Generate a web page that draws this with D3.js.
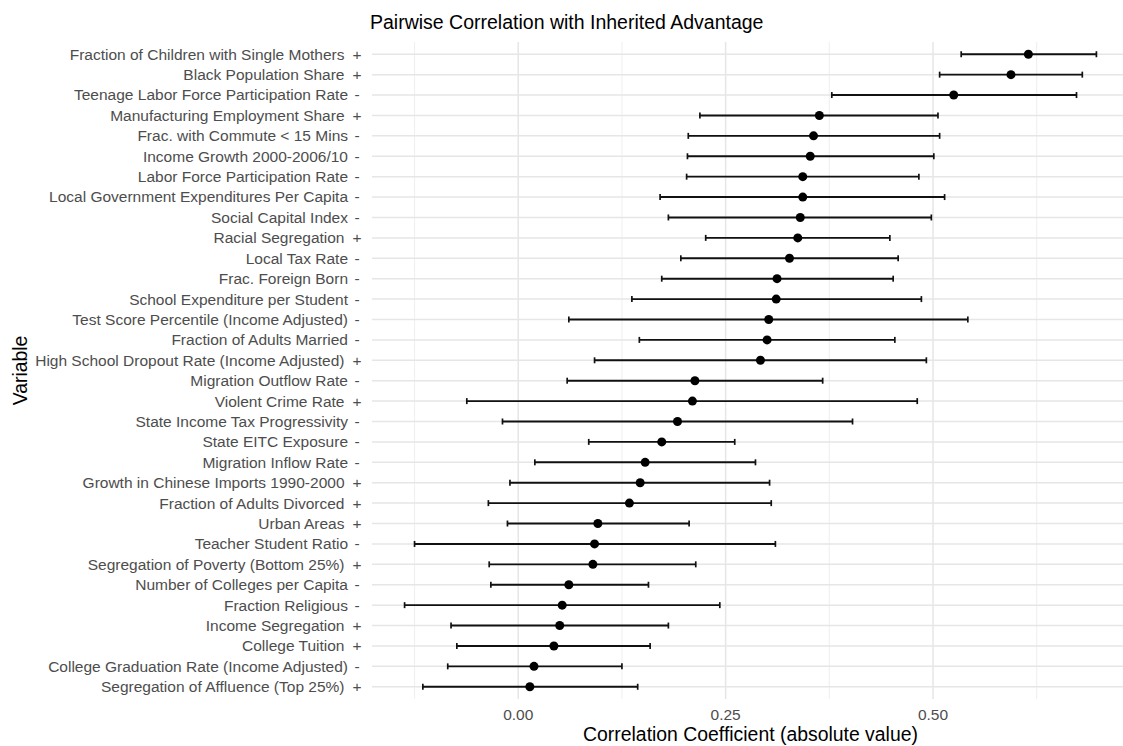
<!DOCTYPE html>
<html>
<head>
<meta charset="utf-8">
<script src="https://cdn.jsdelivr.net/npm/d3@7"></script>
<style>
  body { margin: 0; background: #fff; }
  svg { display: block; font-family: "Liberation Sans", Arial, Helvetica, sans-serif; }
</style>
</head>
<body>
<svg id="chart" width="1123" height="746"></svg>
<script>
// Variables, top to bottom
const variables = [
  "Fraction of Children with Single Mothers",
  "Black Population Share",
  "Teenage Labor Force Participation Rate",
  "Manufacturing Employment Share",
  "Frac. with Commute < 15 Mins",
  "Income Growth 2000-2006/10",
  "Labor Force Participation Rate",
  "Local Government Expenditures Per Capita",
  "Social Capital Index",
  "Racial Segregation",
  "Local Tax Rate",
  "Frac. Foreign Born",
  "School Expenditure per Student",
  "Test Score Percentile (Income Adjusted)",
  "Fraction of Adults Married",
  "High School Dropout Rate (Income Adjusted)",
  "Migration Outflow Rate",
  "Violent Crime Rate",
  "State Income Tax Progressivity",
  "State EITC Exposure",
  "Migration Inflow Rate",
  "Growth in Chinese Imports 1990-2000",
  "Fraction of Adults Divorced",
  "Urban Areas",
  "Teacher Student Ratio",
  "Segregation of Poverty (Bottom 25%)",
  "Number of Colleges per Capita",
  "Fraction Religious",
  "Income Segregation",
  "College Tuition",
  "College Graduation Rate (Income Adjusted)",
  "Segregation of Affluence (Top 25%)"
];
const signs = ["+","+","-","+","-","-","-","-","-","+","-","-","-","-","-","+",
               "-","+","-","-","-","+","+","+","-","+","-","-","+","+","-","+"];
const estimate = [0.615, 0.594, 0.525, 0.363, 0.356, 0.352, 0.343, 0.343, 0.340, 0.337, 0.327, 0.312,
                  0.311, 0.302, 0.300, 0.292, 0.213, 0.210, 0.192, 0.173, 0.153, 0.147, 0.134, 0.096,
                  0.092, 0.090, 0.061, 0.053, 0.050, 0.043, 0.019, 0.014];
const lower = [0.534, 0.508, 0.378, 0.219, 0.205, 0.204, 0.203, 0.171, 0.181, 0.226, 0.196, 0.173,
               0.137, 0.061, 0.146, 0.092, 0.059, -0.062, -0.019, 0.085, 0.020, -0.010, -0.036, -0.013,
               -0.125, -0.035, -0.033, -0.137, -0.081, -0.074, -0.085, -0.115];
const upper = [0.697, 0.680, 0.673, 0.506, 0.508, 0.501, 0.483, 0.514, 0.498, 0.448, 0.458, 0.452,
               0.486, 0.542, 0.454, 0.492, 0.367, 0.481, 0.403, 0.261, 0.286, 0.303, 0.305, 0.206,
               0.310, 0.214, 0.157, 0.243, 0.181, 0.159, 0.125, 0.144];
const xMajorTicks = [0, 0.25, 0.5];
const xMinorTicks = [-0.125, 0.125, 0.375, 0.625];
const xTickLabels = ["0.00", "0.25", "0.50"];

const svg = d3.select("#chart");
const panel = { left: 370, right: 1131, top: 42, bottom: 699 };

// ggplot-like 5% expansion of data range
const dmin = d3.min(lower), dmax = d3.max(upper);
const pad = (dmax - dmin) * 0.05;
const x = d3.scaleLinear().domain([dmin - pad, dmax + pad]).range([panel.left, panel.right]);
const y = d3.scalePoint().domain(variables).range([panel.top, panel.bottom]).padding(0.6);

const grid = svg.append("g");
grid.selectAll("line.minor").data(xMinorTicks).join("line")
  .attr("x1", d => x(d)).attr("x2", d => x(d))
  .attr("y1", panel.top).attr("y2", panel.bottom)
  .attr("stroke", "#EBEBEB").attr("stroke-width", 0.8);
grid.selectAll("line.major").data(xMajorTicks).join("line")
  .attr("x1", d => x(d)).attr("x2", d => x(d))
  .attr("y1", panel.top).attr("y2", panel.bottom)
  .attr("stroke", "#E6E6E6").attr("stroke-width", 1.5);
grid.selectAll("line.h").data(variables).join("line")
  .attr("x1", panel.left + 2).attr("x2", panel.right)
  .attr("y1", d => y(d)).attr("y2", d => y(d))
  .attr("stroke", "#E6E6E6").attr("stroke-width", 1.5);

// Y axis labels
const fs = 15.5;
const ylab = svg.append("g");
variables.forEach((v, i) => {
  ylab.append("text")
    .attr("x", signs[i] === "+" ? 344.5 : 348)
    .attr("y", y(v)).attr("dy", "0.35em")
    .attr("text-anchor", "end")
    .attr("font-size", fs).attr("fill", "#4D4D4D")
    .text(v);
  ylab.append("text")
    .attr("x", 357).attr("y", y(v)).attr("dy", "0.35em")
    .attr("text-anchor", "middle")
    .attr("font-size", fs).attr("fill", "#4D4D4D")
    .text(signs[i]);
});

// X axis labels
svg.append("g").selectAll("text").data(xMajorTicks).join("text")
  .attr("x", d => x(d)).attr("y", 720)
  .attr("text-anchor", "middle").attr("font-size", fs).attr("fill", "#4D4D4D")
  .text((d, i) => xTickLabels[i]);

// Error bars
const bars = svg.append("g");
variables.forEach((v, i) => {
  const yy = y(v);
  bars.append("line").attr("x1", x(lower[i])).attr("x2", x(upper[i]))
    .attr("y1", yy).attr("y2", yy).attr("stroke", "#111").attr("stroke-width", 1.9);
  [lower[i], upper[i]].forEach(e => {
    bars.append("line").attr("x1", x(e)).attr("x2", x(e))
      .attr("y1", yy - 3).attr("y2", yy + 3).attr("stroke", "#111").attr("stroke-width", 1.7);
  });
  bars.append("circle").attr("cx", x(estimate[i])).attr("cy", yy).attr("r", 4.5).attr("fill", "#000");
});

// Titles
svg.append("text").attr("x", panel.left).attr("y", 29)
  .attr("font-size", 19.5).attr("fill", "#000")
  .text("Pairwise Correlation with Inherited Advantage");
svg.append("text").attr("x", (panel.left + panel.right) / 2).attr("y", 741)
  .attr("text-anchor", "middle").attr("font-size", 19.4).attr("fill", "#000")
  .text("Correlation Coefficient (absolute value)");
svg.append("text")
  .attr("transform", `translate(27,${(panel.top + panel.bottom) / 2}) rotate(-90)`)
  .attr("text-anchor", "middle").attr("font-size", 19.4).attr("fill", "#000")
  .text("Variable");
</script>
</body>
</html>
